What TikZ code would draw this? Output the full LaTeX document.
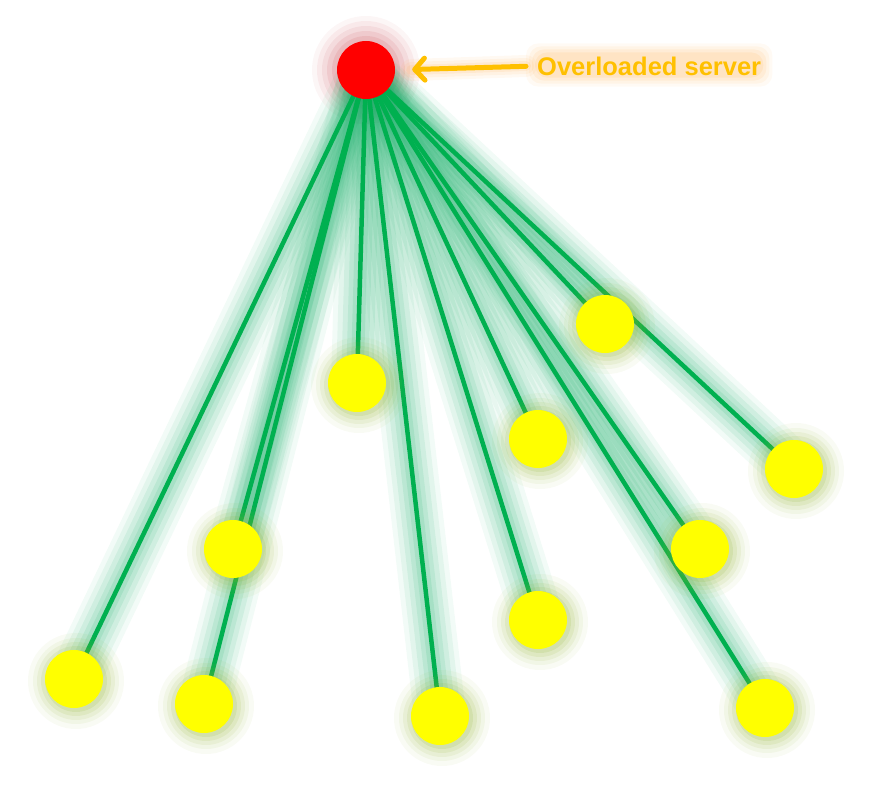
\documentclass[tikz,border=0pt]{standalone}
\usepackage{fontspec}
\setmainfont{Liberation Sans}
\usetikzlibrary{arrows.meta}
\definecolor{linegreen}{RGB}{0,176,80}
\definecolor{glowgreen}{RGB}{40,180,115}
\definecolor{nodeglowc}{RGB}{140,175,40}
\definecolor{redglowc}{RGB}{200,70,80}
\definecolor{labelorange}{RGB}{255,192,0}
\definecolor{haloorange}{RGB}{255,170,70}
\definecolor{clientyellow}{RGB}{255,255,0}
\definecolor{serverred}{RGB}{255,0,0}
\pgfdeclarelayer{glow}
\pgfdeclarelayer{lines}
\pgfdeclarelayer{nodeglow}
\pgfsetlayers{glow,lines,nodeglow,main}
\tikzset{
  client/.style={circle, fill=clientyellow, minimum size=58pt, inner sep=0pt},
  server/.style={circle, fill=serverred, minimum size=58pt, inner sep=0pt},
  link/.style={draw=linegreen, line width=4.5pt},
  linkglow/.style={draw=glowgreen, line cap=round},
  lbl/.style={text=labelorange, font=\bfseries\fontsize{25.5}{28}\selectfont, inner sep=0pt, anchor=west},
  pointer/.style={draw=labelorange, line width=5pt, line cap=round,
    -{Straight Barb[length=10pt, width=22pt, line cap=round, line join=round]}},
}
\begin{document}
\begin{tikzpicture}[x=1pt,y=-1pt]
\useasboundingbox (0,0) rectangle (869,794);
\node[server] (s) at (366,70) {};
\node[client] (n1) at (605,324) {};
\node[client] (n2) at (357,383) {};
\node[client] (n3) at (538,439) {};
\node[client] (n4) at (794,469) {};
\node[client] (n5) at (233,549) {};
\node[client] (n6) at (700,549) {};
\node[client] (n7) at (538,620) {};
\node[client] (n8) at (74,679) {};
\node[client] (n9) at (204,704) {};
\node[client] (n10) at (440,716) {};
\node[client] (n11) at (765,708) {};
\node[lbl] (lab) at (537,66) {Overloaded server};
\begin{pgfonlayer}{glow}
  % label halo
  \foreach \p/\op in {11/0.06,8/0.08,5/0.1,2/0.12}{
    \fill[haloorange, opacity=\op, rounded corners=12pt]
      ([shift={(-\p,-\p-2)}]lab.north west) rectangle ([shift={(\p,\p)}]lab.south east);
  }
  % red glow
  \foreach \r/\op in {54/0.05,49/0.07,44/0.09,39/0.11,34/0.13}{
    \fill[redglowc, opacity=\op] (s.center) circle (\r);
  }
  \foreach \i in {1,...,11}{
    \foreach \w/\op in {52/0.06,42/0.08,32/0.1,22/0.12,13/0.14}{
      \draw[linkglow, line width=\w pt, opacity=\op] (s.center) -- (n\i.center);
    }
  }
  % arrow glow
  \foreach \w/\op in {22/0.07,16/0.09,10/0.12}{
    \draw[draw=haloorange, line width=\w pt, opacity=\op, line cap=round] ([xshift=-11pt]lab.west) -- ([xshift=16pt]s.east);
  }
\end{pgfonlayer}
\begin{pgfonlayer}{lines}
  \foreach \i in {1,...,11}{
    \draw[link] (s.center) -- (n\i.center);
  }
\end{pgfonlayer}
\begin{pgfonlayer}{nodeglow}
  \foreach \i in {1,...,11}{
    \foreach \r/\op in {48/0.05,43/0.07,39/0.09,35/0.11,31/0.14}{
      \fill[nodeglowc, opacity=\op] ([shift={(2,2)}]n\i.center) circle (\r);
    }
  }
\end{pgfonlayer}
\draw[pointer, shorten <=11pt, shorten >=17pt] (lab.west) -- (s.east);
\end{tikzpicture}
\end{document}
